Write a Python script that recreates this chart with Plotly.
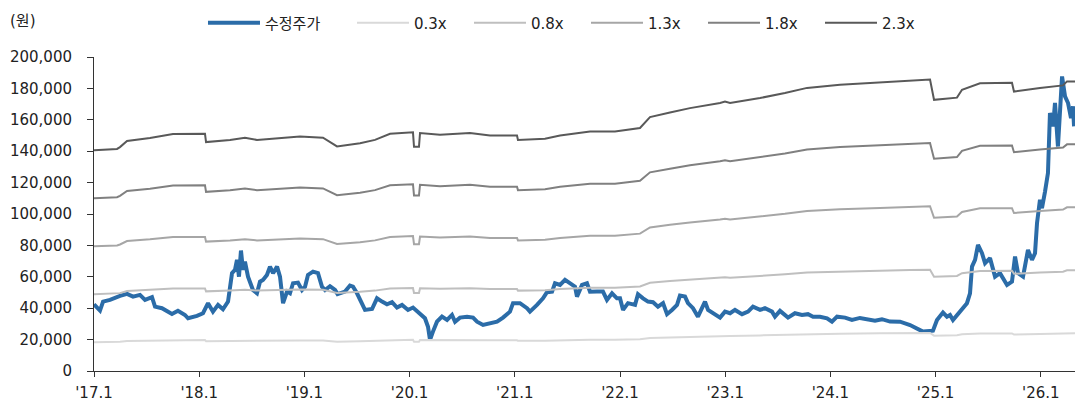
import plotly.graph_objects as go

# ---- data (time in decimal years, values in KRW) ----
price_t = [2017.000, 2017.029, 2017.057, 2017.086, 2017.152, 2017.247, 2017.314, 2017.371, 2017.437, 2017.485,
           2017.551, 2017.580, 2017.646, 2017.741, 2017.798, 2017.865, 2017.894, 2017.979, 2018.036, 2018.084,
           2018.131, 2018.179, 2018.226, 2018.274, 2018.312, 2018.340, 2018.359, 2018.378, 2018.397, 2018.416,
           2018.435, 2018.464, 2018.511, 2018.549, 2018.578, 2018.606, 2018.644, 2018.673, 2018.702, 2018.740,
           2018.768, 2018.797, 2018.835, 2018.863, 2018.892, 2018.939, 2018.977, 2019.006, 2019.034, 2019.082,
           2019.129, 2019.167, 2019.196, 2019.243, 2019.291, 2019.315, 2019.386, 2019.433, 2019.462, 2019.500,
           2019.548, 2019.576, 2019.643, 2019.690, 2019.738, 2019.785, 2019.833, 2019.880, 2019.928, 2019.985,
           2020.032, 2020.080, 2020.146, 2020.175, 2020.194, 2020.222, 2020.260, 2020.308, 2020.356, 2020.403,
           2020.432, 2020.479, 2020.546, 2020.603, 2020.641, 2020.698, 2020.764, 2020.831, 2020.888, 2020.954,
           2020.983, 2021.049, 2021.116, 2021.144, 2021.211, 2021.268, 2021.306, 2021.354, 2021.382, 2021.430,
           2021.477, 2021.525, 2021.572, 2021.591, 2021.639, 2021.686, 2021.715, 2021.781, 2021.838, 2021.876,
           2021.924, 2021.971, 2022.000, 2022.029, 2022.076, 2022.143, 2022.171, 2022.219, 2022.266, 2022.314,
           2022.361, 2022.409, 2022.447, 2022.494, 2022.542, 2022.570, 2022.618, 2022.646, 2022.694, 2022.741,
           2022.808, 2022.837, 2022.903, 2022.951, 2022.998, 2023.046, 2023.093, 2023.160, 2023.217, 2023.264,
           2023.331, 2023.378, 2023.445, 2023.473, 2023.521, 2023.597, 2023.663, 2023.730, 2023.787, 2023.835,
           2023.901, 2023.968, 2024.015, 2024.063, 2024.139, 2024.205, 2024.281, 2024.357, 2024.424, 2024.490,
           2024.567, 2024.662, 2024.757, 2024.880, 2024.975, 2025.013, 2025.070, 2025.108, 2025.137, 2025.165,
           2025.232, 2025.298, 2025.327, 2025.346, 2025.375, 2025.403, 2025.441, 2025.470, 2025.517, 2025.565,
           2025.612, 2025.679, 2025.726, 2025.755, 2025.783, 2025.831, 2025.878, 2025.916, 2025.945, 2025.964,
           2025.992, 2026.011, 2026.040, 2026.068, 2026.087, 2026.116, 2026.135, 2026.163, 2026.202, 2026.230,
           2026.259, 2026.287, 2026.306, 2026.316]

price_v = [42500, 40500, 38500, 44200, 45300, 47800, 49100, 47400, 48500, 45300,
           47000, 41000, 40000, 36300, 38400, 35700, 33600, 35100, 36800, 43200,
           37800, 42100, 39300, 44200, 62300, 64400, 70800, 60100, 76700, 64400,
           69700, 60100, 51600, 49500, 56900, 58000, 61200, 66500, 62300, 66500,
           60100, 43200, 50600, 49500, 55900, 56300, 51600, 53700, 61200, 63300,
           62300, 53700, 51600, 54000, 51600, 49000, 50600, 54400, 53700, 49500,
           43200, 38900, 39500, 46300, 44200, 42500, 43800, 40400, 42100, 38900,
           40400, 37800, 33600, 28200, 19800, 25100, 31400, 34600, 32500, 35700,
           31400, 34000, 34600, 34000, 31400, 29300, 30400, 31400, 34000, 37800,
           43200, 43200, 40000, 37800, 42100, 46300, 50200, 50600, 55900, 54800,
           58000, 55900, 53700, 47400, 54800, 55900, 50500, 50600, 50600, 45300,
           49500, 46300, 46300, 38900, 43200, 42100, 48900, 46300, 44200, 43800,
           41000, 43200, 36200, 38900, 42100, 48000, 47400, 43200, 40000, 34600,
           44200, 38900, 35700, 34000, 37800, 36800, 38900, 36200, 37800, 41000,
           38900, 40000, 37800, 34600, 38300, 34000, 36800, 35700, 36200, 34600,
           34600, 33600, 31400, 34600, 34000, 32500, 33800, 33000, 32000, 33000,
           31500, 31400, 29300, 25100, 25700, 32500, 37200, 34600, 35700, 32500,
           37800, 43200, 49500, 66500, 70800, 80300, 75000, 68700, 71900, 60100,
           62300, 54800, 56900, 72900, 62300, 60100, 77100, 70800, 75000, 94200,
           109000, 103700, 114300, 126000, 164300, 155800, 170700, 143000, 187600, 174900,
           170700, 161100, 168500, 155800]

# book value per share (band base)
bps_t = [2017.000, 2017.219, 2017.247, 2017.314, 2017.532, 2017.751, 2018.055, 2018.065, 2018.293, 2018.435,
         2018.549, 2018.768, 2018.958, 2019.177, 2019.310, 2019.529, 2019.671, 2019.814, 2020.032, 2020.042,
         2020.089, 2020.099, 2020.289, 2020.574, 2020.764, 2021.021, 2021.030, 2021.287, 2021.430, 2021.715,
         2021.952, 2022.190, 2022.285, 2022.475, 2022.665, 2022.951, 2022.998, 2023.046, 2023.331, 2023.568,
         2023.778, 2024.091, 2024.471, 2024.757, 2024.947, 2024.985, 2025.203, 2025.251, 2025.422, 2025.726,
         2025.745, 2025.992, 2026.211, 2026.249, 2026.325]
bps_v = [61100, 61500, 62000, 63700, 64500, 65600, 65700, 63400, 64000, 64600,
         64000, 64600, 64950, 64600, 62200, 63100, 64000, 65700, 66100, 62100,
         62100, 65900, 65400, 65900, 65200, 65200, 64000, 64300, 65200, 66300,
         66300, 67300, 70300, 71600, 72800, 74200, 74600, 74200, 75600, 77000,
         78400, 79300, 79900, 80500, 80700, 75100, 75700, 77900, 79700, 79800,
         77400, 78400, 79100, 80200, 80200]

multiples = [0.3, 0.8, 1.3, 1.8, 2.3]
band_names = ["0.3x", "0.8x", "1.3x", "1.8x", "2.3x"]
band_colors = ["#d9d9d9", "#bfbfbf", "#a6a6a6", "#808080", "#595959"]

tick_years = [2017, 2018, 2019, 2020, 2021, 2022, 2023, 2024, 2025, 2026]
tick_labels = ["'17.1", "'18.1", "'19.1", "'20.1", "'21.1", "'22.1", "'23.1", "'24.1", "'25.1", "'26.1"]
y_ticks = list(range(0, 200001, 20000))

FONT = "DejaVu Sans, Noto Sans CJK KR, sans-serif"
TXT = "#222222"

fig = go.Figure()
fig.add_trace(go.Scatter(x=price_t, y=price_v, mode="lines", name="수정주가", showlegend=True,
                         line=dict(color="#2b6ca8", width=4), legend="legend"))
for m, nm, c in zip(multiples, band_names, band_colors):
    fig.add_trace(go.Scatter(x=bps_t, y=[b * m for b in bps_v], mode="lines", name=nm,
                             showlegend=True, line=dict(color=c, width=2), legend="legend2"))

fig.update_layout(
    width=1075, height=409,
    margin=dict(l=94, r=0, t=57, b=38),
    showlegend=True,
    plot_bgcolor="white", paper_bgcolor="white",
    font=dict(family=FONT, size=15, color=TXT),
    legend=dict(visible=True, orientation="h", x=0.1111, y=1.108, xanchor="left", yanchor="middle",
                font=dict(family=FONT, size=15, color=TXT), itemwidth=52,
                bgcolor="rgba(0,0,0,0)"),
    legend2=dict(visible=True, orientation="h", x=0.263, y=1.108, xanchor="left", yanchor="middle",
                 font=dict(family=FONT, size=15, color=TXT), itemwidth=52,
                 entrywidth=50, bgcolor="rgba(0,0,0,0)"),
    annotations=[dict(text="(원)", xref="paper", yref="paper", x=-0.0877, y=1.115,
                      xanchor="left", yanchor="middle", showarrow=False,
                      font=dict(family=FONT, size=15, color=TXT))],
)
fig.update_xaxes(range=[2017, 2026.325], tickvals=tick_years, ticktext=tick_labels,
                 showgrid=False, zeroline=False, showline=True, linecolor="#333333", linewidth=1,
                 ticks="outside", ticklen=5, tickcolor="#333333", ticklabelstandoff=3,
                 tickfont=dict(family=FONT, size=15, color=TXT))
fig.update_yaxes(range=[0, 200000], tickvals=y_ticks, tickformat=",",
                 showgrid=False, zeroline=False, showline=True, linecolor="#333333", linewidth=1,
                 ticks="outside", ticklen=6, tickcolor="#333333", ticklabelstandoff=12,
                 tickfont=dict(family=FONT, size=15, color=TXT))

fig.write_html("out.html", config={"displayModeBar": False},
               post_script="document.body.style.margin='0';")
